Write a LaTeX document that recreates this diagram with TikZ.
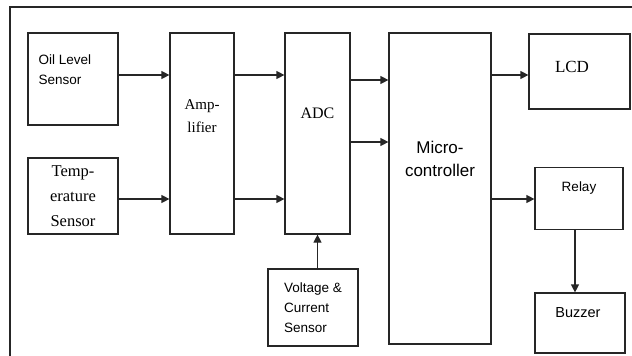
\documentclass[tikz,border=0pt]{standalone}
\usepackage{fontspec}
\setmainfont{Liberation Serif}
\setsansfont{Liberation Sans}
\usetikzlibrary{arrows.meta}
\begin{document}
\begin{tikzpicture}[x=1pt,y=-1pt,
  box/.style={draw=black!85, line width=1.2pt, rectangle, inner sep=0pt},
  arr/.style={draw=black!85, line width=1.2pt, -{Triangle[length=8pt,width=8pt]}},
  sftext/.style={font=\sffamily\fontsize{13.5}{20}\selectfont, inner sep=0pt},
  rmtext/.style={font=\rmfamily\fontsize{16}{24}\selectfont, inner sep=0pt}]
\useasboundingbox (0,0) rectangle (632,356);
\draw[black!85, line width=1.2pt] (632,7) -- (10,7) -- (10,356);

% boxes
\node[box, minimum width=90pt, minimum height=92pt,
  label={[sftext, align=left, anchor=north west, xshift=11pt, yshift=-22pt]north west:Oil Level\\Sensor}]
  (oil) at (73,79) {};
\node[box, rmtext, align=center, minimum width=90pt, minimum height=76pt,
  font=\rmfamily\fontsize{16.5}{25}\selectfont]
  (temp) at (73,196) {Temp-\\erature\\Sensor};
\node[box, minimum width=64pt, minimum height=201pt,
  label={[rmtext, align=center, font=\rmfamily\fontsize{15}{23}\selectfont, yshift=17.5pt]center:Amp-\\lifier}]
  (amp) at (202,133.5) {};
\node[box, minimum width=65pt, minimum height=201pt,
  label={[rmtext, yshift=20.5pt]center:ADC}]
  (adc) at (317.5,133.5) {};
\node[box, sftext, align=left, minimum width=90pt, minimum height=77pt]
  (vcs) at (313,307.5) {Voltage \&\\Current\\Sensor};
\node[box, minimum width=102pt, minimum height=311pt,
  label={[sftext, align=center, font=\sffamily\fontsize{17}{23}\selectfont, yshift=30pt]center:Micro-\\controller}]
  (mcu) at (440,188.5) {};
\node[box, minimum width=101pt, minimum height=75pt,
  label={[rmtext, font=\rmfamily\fontsize{17}{24}\selectfont, xshift=-7.5pt, yshift=4.5pt]center:LCD}]
  (lcd) at (579.5,71.5) {};
\node[box, minimum width=88pt, minimum height=62pt,
  label={[sftext, yshift=10.5pt]center:Relay}]
  (relay) at (579,198.5) {};
\node[box, minimum width=90pt, minimum height=60pt,
  label={[sftext, font=\sffamily\fontsize{14.5}{20}\selectfont, xshift=-2pt, yshift=10pt]center:Buzzer}]
  (buzzer) at (580,323) {};

% connectors
\draw[arr] (oil.east |- 0,75) -- (amp.west |- 0,75);
\draw[arr] (temp.east |- 0,199) -- (amp.west |- 0,199);
\draw[arr] (amp.east |- 0,75) -- (adc.west |- 0,75);
\draw[arr] (amp.east |- 0,199) -- (adc.west |- 0,199);
\draw[arr] (adc.east |- 0,80) -- (mcu.west |- 0,80);
\draw[arr] (adc.east |- 0,142) -- (mcu.west |- 0,142);
\draw[arr] (mcu.east |- 0,75) -- (lcd.west |- 0,75);
\draw[arr] (mcu.east |- 0,199) -- (relay.west |- 0,199);
\draw[arr] (575,0 |- relay.south) -- (575,0 |- buzzer.north);
\draw[arr] (adc.south |- vcs.north) -- (adc.south);
\end{tikzpicture}
\end{document}
